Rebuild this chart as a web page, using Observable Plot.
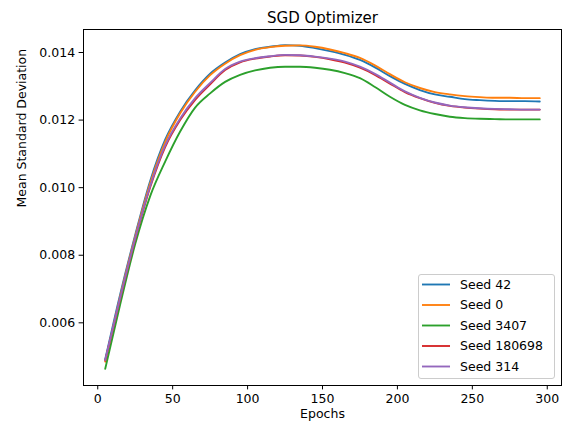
<!DOCTYPE html>
<html>
<head>
<meta charset="utf-8">
<script src="https://cdn.jsdelivr.net/npm/d3@7"></script>
<script src="https://cdn.jsdelivr.net/npm/@observablehq/plot@0.6"></script>
<style>
  html, body { margin: 0; padding: 0; background: #fff; }
  #chart svg { display: block; }
</style>
</head>
<body>
<div id="chart"></div>
<script>
const epochs = [5, 15, 25, 35, 45, 55, 65, 75, 85, 95, 105, 115, 125, 135, 145, 155, 165, 175, 185, 195, 205, 215, 225, 235, 245, 255, 265, 275, 285, 295];

const seedNames = ["Seed 42", "Seed 0", "Seed 3407", "Seed 180698", "Seed 314"];
const seedColors = ["#1f77b4", "#ff7f0e", "#2ca02c", "#d62728", "#9467bd"];

const seed42 = [0.00492, 0.00685, 0.00860, 0.01020, 0.01142, 0.01225, 0.01288, 0.01337, 0.01370, 0.01395, 0.01410, 0.01417, 0.01422, 0.01420, 0.01413, 0.01404, 0.01393, 0.01378, 0.01356, 0.01330, 0.01307, 0.01289, 0.01276, 0.01269, 0.01262, 0.01259, 0.01257, 0.01256, 0.01256, 0.01255];
const seed0 = [0.00485, 0.00678, 0.00855, 0.01013, 0.01135, 0.01220, 0.01284, 0.01333, 0.01367, 0.01392, 0.01408, 0.01416, 0.01420, 0.01421, 0.01417, 0.01409, 0.01398, 0.01384, 0.01362, 0.01336, 0.01312, 0.01295, 0.01283, 0.01276, 0.01271, 0.01268, 0.01266, 0.01266, 0.01265, 0.01265];
const seed3407 = [0.00464, 0.00655, 0.00833, 0.00975, 0.01077, 0.01166, 0.01237, 0.01279, 0.01313, 0.01334, 0.01347, 0.01355, 0.01358, 0.01358, 0.01355, 0.01349, 0.01339, 0.01324, 0.01298, 0.01269, 0.01245, 0.01229, 0.01218, 0.01210, 0.01206, 0.01204, 0.01203, 0.01202, 0.01202, 0.01202];
const seed180698 = [0.00488, 0.00672, 0.00847, 0.01001, 0.01120, 0.01200, 0.01260, 0.01306, 0.01348, 0.01371, 0.01382, 0.01388, 0.01392, 0.01391, 0.01387, 0.01380, 0.01370, 0.01355, 0.01334, 0.01308, 0.01283, 0.01265, 0.01251, 0.01242, 0.01237, 0.01234, 0.01232, 0.01231, 0.01231, 0.01231];
const seed314 = [0.00490, 0.00675, 0.00850, 0.01005, 0.01125, 0.01205, 0.01265, 0.01310, 0.01351, 0.01373, 0.01383, 0.01389, 0.01393, 0.01392, 0.01388, 0.01382, 0.01373, 0.01358, 0.01337, 0.01311, 0.01285, 0.01266, 0.01252, 0.01243, 0.01238, 0.01235, 0.01233, 0.01232, 0.01231, 0.01231];

const xTicks = [0, 50, 100, 150, 200, 250, 300];
const yTicks = [0.006, 0.008, 0.010, 0.012, 0.014];

const titleText = "SGD Optimizer";
const xLabel = "Epochs";
const yLabel = "Mean Standard Deviation";

const seriesValues = [seed42, seed0, seed3407, seed180698, seed314];
const data = seriesValues.flatMap((vals, i) =>
  vals.map((v, j) => ({epoch: epochs[j], value: v, seed: seedNames[i]}))
);

const W = 567, H = 432;
const mL = 83, mR = 6, mT = 29, mB = 47;
const font = "DejaVu Sans, sans-serif";

const chart = Plot.plot({
  width: W,
  height: H,
  marginLeft: mL,
  marginRight: mR,
  marginTop: mT,
  marginBottom: mB,
  style: {fontFamily: font, fontSize: "12.5px", color: "black", background: "white"},
  x: {domain: [-9.5, 309.5]},
  y: {domain: [0.004145, 0.014681]},
  color: {domain: seedNames, range: seedColors},
  marks: [
    Plot.axisX({ticks: xTicks, tickSize: 4.4, tickPadding: 4, fontSize: 12.5, label: null, tickFormat: d3.format("d")}),
    Plot.axisY({ticks: yTicks, tickSize: 4.4, tickPadding: 4, fontSize: 12.5, label: null, tickFormat: d3.format(".3f")}),
    Plot.line(data, {x: "epoch", y: "value", z: "seed", stroke: "seed", strokeWidth: 1.875, curve: "monotone-x"}),
    Plot.frame({stroke: "black", strokeWidth: 1}),
    Plot.text([titleText], {frameAnchor: "top", dy: -17, text: d => d, fontSize: 15, fill: "black"}),
    Plot.text([xLabel], {frameAnchor: "bottom", dy: 32, text: d => d, fontSize: 12.5, fill: "black"}),
    Plot.text([yLabel], {frameAnchor: "left", dx: -62, rotate: -90, text: d => d, fontSize: 12.5, fill: "black"})
  ]
});

document.getElementById("chart").appendChild(chart);

// Legend (matplotlib-style, lower right inside the axes)
const svg = d3.select(chart);
const frameRight = W - mR;
const frameBottom = H - mB;
const legW = 136, legH = 104;
const legX = frameRight - 7 - legW;
const legY = frameBottom - 7 - legH;
const g = svg.append("g")
  .attr("font-family", font)
  .attr("font-size", "12.5px")
  .attr("text-anchor", "start");
g.append("rect")
  .attr("x", legX + 0.5).attr("y", legY + 0.5)
  .attr("width", legW).attr("height", legH)
  .attr("rx", 2.5).attr("ry", 2.5)
  .attr("fill", "white").attr("fill-opacity", 0.8)
  .attr("stroke", "#cccccc").attr("stroke-width", 1);
seedNames.forEach((name, i) => {
  const cy = legY + 10.5 + i * 20.5;
  g.append("line")
    .attr("x1", legX + 4).attr("x2", legX + 32)
    .attr("y1", cy).attr("y2", cy)
    .attr("stroke", seedColors[i]).attr("stroke-width", 1.875);
  g.append("text")
    .attr("x", legX + 42).attr("y", cy)
    .attr("dy", "0.35em")
    .attr("text-anchor", "start")
    .attr("fill", "black")
    .text(name);
});
</script>
</body>
</html>
